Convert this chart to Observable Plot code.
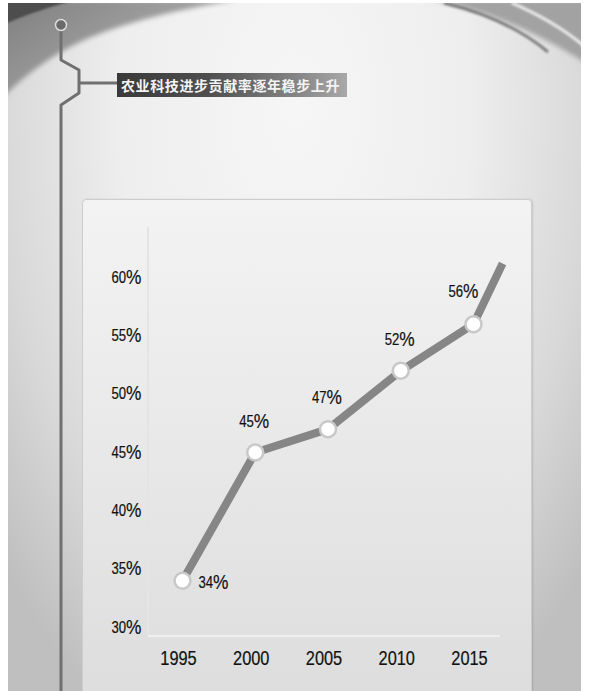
<!DOCTYPE html>
<html>
<head>
<meta charset="utf-8">
<script src="https://cdn.jsdelivr.net/npm/d3@7"></script>
<script src="https://cdn.jsdelivr.net/npm/@observablehq/plot@0.6"></script>
<style>
  html, body { margin: 0; padding: 0; background: #fff; }
  #stage { position: relative; width: 596px; height: 691px; overflow: hidden; background: #fff; }
  #art {
    position: absolute; left: 8px; top: 3px; width: 573px; height: 688px; overflow: hidden;
    background: radial-gradient(ellipse 68% 100% at 50% 15%, #f6f6f6 0%, #eeeeee 45%, #d8d8d8 76%, #bfbfbf 100%);
  }
  #deco { position: absolute; left: 0; top: 0; }
  #title {
    position: absolute; left: 117px; top: 73px; width: 230px; height: 24px; box-sizing: border-box;
    padding-left: 4px; line-height: 24px; white-space: nowrap;
    font-family: "Noto Sans CJK SC", sans-serif; font-size: 14px; font-weight: 700; letter-spacing: 0.6px; color: #f4f4f4;
    background: linear-gradient(to right, #3a3a3a 0%, #4f4f4f 40%, #858585 78%, #a8a8a8 100%);
  }
  #panel {
    position: absolute; left: 82px; top: 199px; width: 450px; height: 520px; box-sizing: border-box;
    border: 1px solid #cdcdcd; border-radius: 4px;
    background: linear-gradient(to bottom, #f3f3f3 0%, #e9e9e9 45%, #dcdcdc 100%);
    box-shadow: 1px 0 2px rgba(0,0,0,0.12);
  }
  #vline { position: absolute; left: 147px; top: 227px; width: 2px; height: 410px; background: #e4e4e4; }
  #hline { position: absolute; left: 148px; top: 635px; width: 352px; height: 2px; background: #efefef; }
  #chart { position: absolute; left: 0; top: 0; }
</style>
</head>
<body>
<div id="stage">
  <div id="art"></div>
  <svg id="deco" width="596" height="691">
    <defs>
      <clipPath id="artclip"><rect x="8" y="3" width="573" height="688"/></clipPath>
      <linearGradient id="tl" x1="0" y1="0" x2="1" y2="0.6">
        <stop offset="0" stop-color="#7e7e7e"/>
        <stop offset="0.5" stop-color="#9a9a9a"/>
        <stop offset="1" stop-color="#b2b2b2"/>
      </linearGradient>
      <filter id="soft" x="-20%" y="-20%" width="140%" height="140%"><feGaussianBlur stdDeviation="2.5"/></filter>
      <filter id="soft1" x="-20%" y="-20%" width="140%" height="140%"><feGaussianBlur stdDeviation="1"/></filter>
    </defs>
    <g clip-path="url(#artclip)">
      <!-- top-left swoosh -->
      <path d="M0,0 L240,0 C180,8 120,24 82,41 C50,56 25,75 0,100 Z" fill="url(#tl)" filter="url(#soft)"/>
      <path d="M0,0 L75,0 C50,7 28,14 0,26 Z" fill="#4e4e4e" filter="url(#soft1)"/>
      <!-- top-right swoosh -->
      <path d="M432,0 L600,0 L600,72 C548,38 495,12 432,0 Z" fill="#a2a2a2" filter="url(#soft)"/>
      <path d="M444,3 C490,14 524,32 548,52" stroke="#555" stroke-width="3" fill="none" opacity="0.7" filter="url(#soft1)"/>
      <path d="M512,3 C540,15 565,30 584,46" stroke="#f2f2f2" stroke-width="3.5" fill="none" opacity="0.85" filter="url(#soft1)"/>
    </g>
    <!-- connector -->
    <polyline points="61,25 61,60 79,70 79,93 61,105 61,691" fill="none" stroke="#707070" stroke-width="3" stroke-linejoin="round"/>
    <line x1="79" y1="83" x2="118" y2="83" stroke="#707070" stroke-width="3"/>
    <circle cx="61" cy="25" r="5.5" fill="#6a6a6a" stroke="#dcdcdc" stroke-width="1.5"/>
  </svg>
  <div id="title"></div>
  <div id="panel"></div>
  <div id="vline"></div>
  <div id="hline"></div>
  <div id="chart"></div>
</div>
<script>
  // ---- data ----
  const titleText = "农业科技进步贡献率逐年稳步上升";
  const years = [1995, 2000, 2005, 2010, 2015];
  const rates = [34, 45, 47, 52, 56];
  const tailYear = 2017;     // line continues past the last labelled point
  const tailRate = 61.2;
  const yTicks = [30, 35, 40, 45, 50, 55, 60];
  const xTicks = [1995, 2000, 2005, 2010, 2015];

  document.getElementById("title").textContent = titleText;

  const points = years.map((year, i) => ({year, rate: rates[i]}));
  const lineData = [...points, {year: tailYear, rate: tailRate}];

  const numFont = '"Liberation Sans", Arial, sans-serif';
  const pct = d => d.rate + "%";
  const ink = "#111";

  const chart = Plot.plot({
    width: 596,
    height: 691,
    marginLeft: 182,
    marginRight: 123,
    marginTop: 277,
    marginBottom: 64,
    x: {domain: [1995, 2015]},
    y: {domain: [30, 60]},
    style: {background: "transparent", fontFamily: numFont, color: ink, overflow: "visible"},
    marks: [
      Plot.axisY({ticks: yTicks, tickFormat: d => d + "%", tickSize: 0, tickPadding: 41, fontSize: 16, label: null}),
      Plot.axisX({ticks: xTicks, tickFormat: d => String(d), tickSize: 0, tickPadding: 23, fontSize: 20, dx: -4, label: null}),
      Plot.line(lineData, {x: "year", y: "rate", stroke: "#868686", strokeWidth: 8, strokeLinejoin: "round", strokeLinecap: "butt"}),
      Plot.dot(points, {x: "year", y: "rate", r: 8, fill: "#ffffff", stroke: "#c8c8c8", strokeWidth: 2.5}),
      Plot.text(points.slice(1, 4), {x: "year", y: "rate", text: pct, dy: -31, dx: -1, fontSize: 16, fill: ink}),
      Plot.text(points.slice(4), {x: "year", y: "rate", text: pct, dy: -32, dx: -10, fontSize: 16, fill: ink}),
      Plot.text(points.slice(0, 1), {x: "year", y: "rate", text: pct, dy: 2, dx: 16, textAnchor: "start", fontSize: 16, fill: ink})
    ]
  });

  // narrow the numerals (Arial Narrow look) and enlarge the "%" glyph as in the artwork
  const sx = 0.82;
  chart.querySelectorAll("text").forEach(t => {
    const s = t.textContent;
    if (s.endsWith("%") && !t.querySelector("tspan")) {
      t.textContent = s.slice(0, -1);
      const sp = document.createElementNS("http://www.w3.org/2000/svg", "tspan");
      sp.setAttribute("font-size", "1.32em");
      sp.setAttribute("dy", "0.05em");
      sp.textContent = "%";
      t.appendChild(sp);
    }
    const tr = t.getAttribute("transform");
    if (tr) {
      t.setAttribute("transform", tr + ` scale(${sx},1)`);
    } else {
      const x = +(t.getAttribute("x") || 0);
      t.setAttribute("transform", `translate(${x},0) scale(${sx},1) translate(${-x},0)`);
    }
    t.setAttribute("stroke", ink);
    t.setAttribute("stroke-width", "0.2");
  });

  document.getElementById("chart").appendChild(chart);
</script>
</body>
</html>
